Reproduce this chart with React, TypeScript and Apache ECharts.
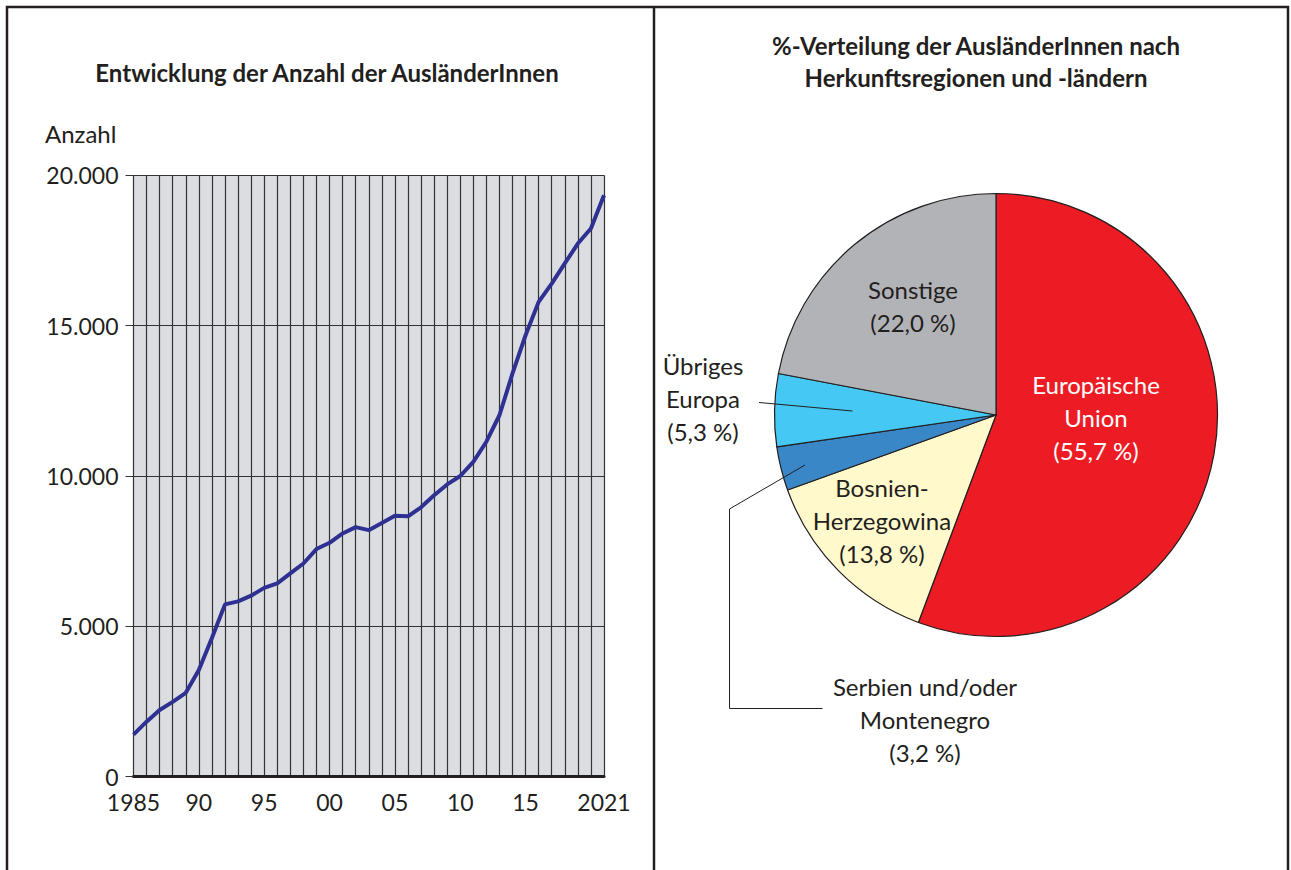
import React, { useEffect, useRef } from "react";
import * as echarts from "echarts";

const years: number[] = [];
for (let y = 1985; y <= 2021; y++) years.push(y);

const population = [
  1400, 1830, 2220, 2490, 2790, 3550, 4610, 5730, 5830, 6020, 6280, 6430,
  6760, 7090, 7570, 7780, 8090, 8300, 8200, 8440, 8680, 8660, 8960, 9360,
  9720, 10000, 10470, 11140, 12020, 13410, 14680, 15790, 16400, 17070,
  17730, 18230, 19340,
];

const xTickLabels: Record<number, string> = {
  1985: "1985", 1990: "90", 1995: "95", 2000: "00", 2005: "05", 2010: "10", 2015: "15", 2021: "2021",
};

const pieNames = [
  "Europäische Union",
  "Bosnien-Herzegowina",
  "Serbien und/oder Montenegro",
  "Übriges Europa",
  "Sonstige",
];
const pieValues = [55.7, 13.8, 3.2, 5.3, 22.0];
const pieColors = ["#ed1c24", "#fff9cc", "#3a87c8", "#45c9f4", "#b2b3b7"];
const pieLabelLines = [
  ["Europäische", "Union"],
  ["Bosnien-", "Herzegowina"],
  ["Serbien und/oder", "Montenegro"],
  ["Übriges", "Europa"],
  ["Sonstige"],
];

const FONT = "Lato, 'Noto Sans', sans-serif";
const TXT = "#231f20";

const fmtThousands = (v: number) => String(v).replace(/\B(?=(\d{3})+(?!\d))/g, ".");
const fmtPct = (v: number) => "(" + v.toFixed(1).replace(".", ",") + " %)";

export default function App() {
  const ref = useRef<HTMLDivElement>(null);
  useEffect(() => {
    if (!ref.current) return;
    const chart = echarts.init(ref.current, undefined, { renderer: "svg" });

    const labelPos: { x: number; y: number; color: string }[] = [
      { x: 1096, y: 417, color: "#ffffff" },
      { x: 882, y: 520, color: TXT },
      { x: 925, y: 719, color: TXT },
      { x: 703, y: 398, color: TXT },
      { x: 913, y: 306, color: TXT },
    ];

    const pieLabelGraphics = pieNames.map((n, i) => ({
      type: "text",
      x: labelPos[i].x,
      y: labelPos[i].y,
      z: 100,
      silent: true,
      style: {
        text: [...pieLabelLines[i], fmtPct(pieValues[i])].join("\n"),
        fill: labelPos[i].color,
        fontFamily: FONT,
        fontSize: 24,
        lineHeight: 33,
        textAlign: "center",
        textVerticalAlign: "middle",
      },
    }));

    chart.setOption({
      animation: false,
      grid: {
        left: 133.5,
        top: 175.3,
        right: 1291 - 604,
        bottom: 870 - 776.7,
        show: true,
        backgroundColor: "#dcdde0",
        borderWidth: 0,
      },
      xAxis: {
        type: "category",
        data: years,
        boundaryGap: false,
        axisLine: { show: true, lineStyle: { color: "#231f20", width: 3 } },
        axisTick: { show: false },
        splitLine: { show: true, interval: 0, lineStyle: { color: "#333333", width: 1.2 } },
        axisLabel: {
          interval: (idx: number) => xTickLabels[years[idx]] !== undefined,
          formatter: (v: string) => xTickLabels[Number(v)] ?? "",
          fontFamily: FONT,
          fontSize: 23,
          color: TXT,
          margin: 14,
        },
      },
      yAxis: {
        type: "value",
        min: 0,
        max: 20000,
        interval: 5000,
        axisLine: { show: false },
        axisTick: { show: true, length: 8, lineStyle: { color: "#333333" } },
        splitLine: { show: true, lineStyle: { color: "#333333", width: 1 } },
        axisLabel: {
          formatter: (v: number) => fmtThousands(v),
          fontFamily: FONT,
          fontSize: 23,
          color: TXT,
          margin: 15,
        },
      },
      series: [
        {
          type: "line",
          data: population,
          symbol: "none",
          lineStyle: { color: "#2e3192", width: 4 },
          z: 5,
        },
        {
          type: "pie",
          center: [996, 415],
          radius: 221.5,
          startAngle: 90,
          clockwise: true,
          label: { show: false },
          labelLine: { show: false },
          itemStyle: { borderColor: "#231f20", borderWidth: 1.2 },
          emphasis: { disabled: true },
          data: pieNames.map((n, i) => ({
            name: n,
            value: pieValues[i],
            itemStyle: { color: pieColors[i] },
          })),
        },
      ],
      graphic: [
        {
          type: "rect",
          shape: { x: 7, y: 7, width: 1281, height: 900 },
          style: { fill: "none", stroke: TXT, lineWidth: 2.5 },
          silent: true,
        },
        {
          type: "line",
          shape: { x1: 654, y1: 7, x2: 654, y2: 880 },
          style: { stroke: TXT, lineWidth: 2.5 },
          silent: true,
        },
        {
          type: "text",
          x: 327,
          y: 72,
          style: {
            text: "Entwicklung der Anzahl der AusländerInnen",
            fill: TXT,
            fontFamily: FONT,
            fontSize: 24,
            fontWeight: "bold",
            textAlign: "center",
            textVerticalAlign: "middle",
          },
        },
        {
          type: "text",
          x: 45,
          y: 133,
          style: {
            text: "Anzahl",
            fill: TXT,
            fontFamily: FONT,
            fontSize: 24,
            textAlign: "left",
            textVerticalAlign: "middle",
          },
        },
        {
          type: "text",
          x: 976,
          y: 61,
          style: {
            text: "%-Verteilung der AusländerInnen nach\nHerkunftsregionen und -ländern",
            fill: TXT,
            fontFamily: FONT,
            fontSize: 24,
            fontWeight: "bold",
            lineHeight: 32,
            textAlign: "center",
            textVerticalAlign: "middle",
          },
        },
        {
          type: "line",
          z: 100,
          shape: { x1: 759, y1: 402.5, x2: 852.5, y2: 411 },
          style: { stroke: TXT, lineWidth: 1 },
          silent: true,
        },
        {
          type: "polyline",
          z: 100,
          shape: { points: [[805, 465], [729.5, 509], [729.5, 708.5], [822.5, 708.5]] },
          style: { stroke: TXT, lineWidth: 1, fill: "none" },
          silent: true,
        },
        ...pieLabelGraphics,
      ],
    });
    return () => chart.dispose();
  }, []);
  return (
    <div
      ref={ref}
      style={{ position: "absolute", left: 0, top: 0, width: 1291, height: 870, background: "#fff" }}
    />
  );
}
